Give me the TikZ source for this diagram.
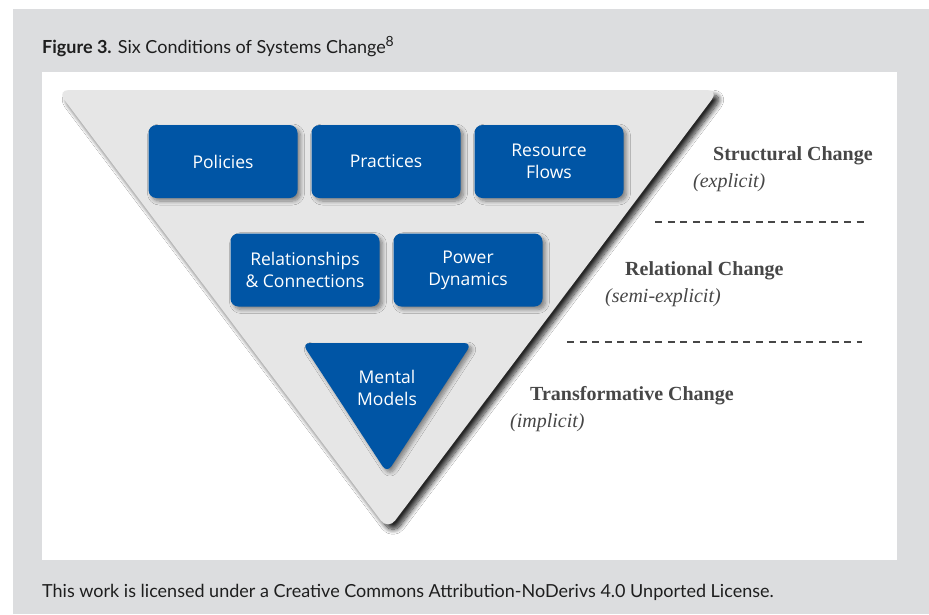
\documentclass[tikz,border=0pt]{standalone}
\usepackage{fontspec}
\setmainfont{Liberation Serif}
\newfontfamily\capfont{Lato}
\newfontfamily\boxfont{Open Sans}
\usetikzlibrary{shadows.blur}
\definecolor{panelgray}{HTML}{DCDDDF}
\definecolor{funnelgray}{HTML}{E6E6E6}
\definecolor{boxblue}{HTML}{0055A5}
\definecolor{labelgray}{HTML}{474747}
\definecolor{captext}{HTML}{1E1E1E}

\tikzset{
  condbox/.style={fill=boxblue, rounded corners=8pt, minimum width=149pt,
    minimum height=73pt, text=white, align=center, inner sep=0pt,
    font=\boxfont\fontsize{17.5}{22}\selectfont,
    blur shadow={shadow xshift=3pt, shadow yshift=-3pt, shadow blur radius=4pt,
      shadow blur steps=8, shadow opacity=45}},
  condtext/.style={text=white, align=center, inner sep=0pt,
    font=\boxfont\fontsize{17.5}{22}\selectfont},
  levelhead/.style={anchor=base west, inner sep=0pt, text=labelgray,
    font=\fontsize{20}{24}\selectfont\bfseries},
  levelnote/.style={anchor=base west, inner sep=0pt, text=labelgray,
    font=\fontsize{20}{24}\selectfont\itshape},
  divider/.style={draw=labelgray, line width=1.3pt, dash pattern=on 7pt off 5.6pt},
  captionline/.style={anchor=base west, inner sep=0pt, text=captext,
    font=\capfont\fontsize{18}{21}\selectfont}
}

\begin{document}
\begin{tikzpicture}[x=1pt, y=-1pt]
\useasboundingbox (0,0) rectangle (929,614);

% page frame
\fill[panelgray] (13,9) rectangle (929,614);
\fill[white] (42,72) rectangle (897,560);

% caption and licence line
\node[captionline] (caption) at (42,53)
  {\textbf{Figure 3.} Six Conditions of Systems Change\raisebox{0.38em}{\fontsize{14}{15}\selectfont 8}};
\node[captionline] (licence) at (42,597)
  {This work is licensed under a Creative Commons Attribution-NoDerivs 4.0 Unported License.};

% the inverted funnel
\fill[funnelgray, rounded corners=12pt,
  blur shadow={shadow xshift=5pt, shadow yshift=-5pt, shadow blur radius=5pt,
    shadow blur steps=10, shadow opacity=85}]
  (57,90) -- (719,90) -- (388,530) -- cycle;

% structural conditions
\node[condbox] (policies)  at (223,161.5) {Policies};
\node[condbox] (practices) at (386,161.5) {Practices};
\node[condbox] (resources) at (549,161.5) {Resource\\Flows};

% relational conditions
\node[condbox] (relations) at (305,270) {Relationships\\\& Connections};
\node[condbox] (power)     at (468,270) {Power\\Dynamics};

% transformative condition
\fill[boxblue, rounded corners=8pt,
  blur shadow={shadow xshift=3pt, shadow yshift=-3pt, shadow blur radius=4pt,
    shadow blur steps=8, shadow opacity=45}]
  (302,343) -- (472,343) -- (387,473) -- cycle;
\node[condtext] (mental) at (387,388) {Mental\\Models};

% level labels
\node[levelhead] (structural) at (713,160) {Structural Change};
\node[levelnote] (explicit)   at (693,187) {(explicit)};
\coordinate (d1a) at (655,222);
\coordinate (d1b) at (868,222);
\draw[divider] (d1a) -- (d1b);

\node[levelhead] (relational) at (625,275) {Relational Change};
\node[levelnote] (semiexp)    at (605,302) {(semi-explicit)};
\coordinate (d2a) at (567,342);
\coordinate (d2b) at (862,342);
\draw[divider] (d2a) -- (d2b);

\node[levelhead] (transform) at (530,400) {Transformative Change};
\node[levelnote] (implicit)  at (510,427) {(implicit)};
\end{tikzpicture}
\end{document}
